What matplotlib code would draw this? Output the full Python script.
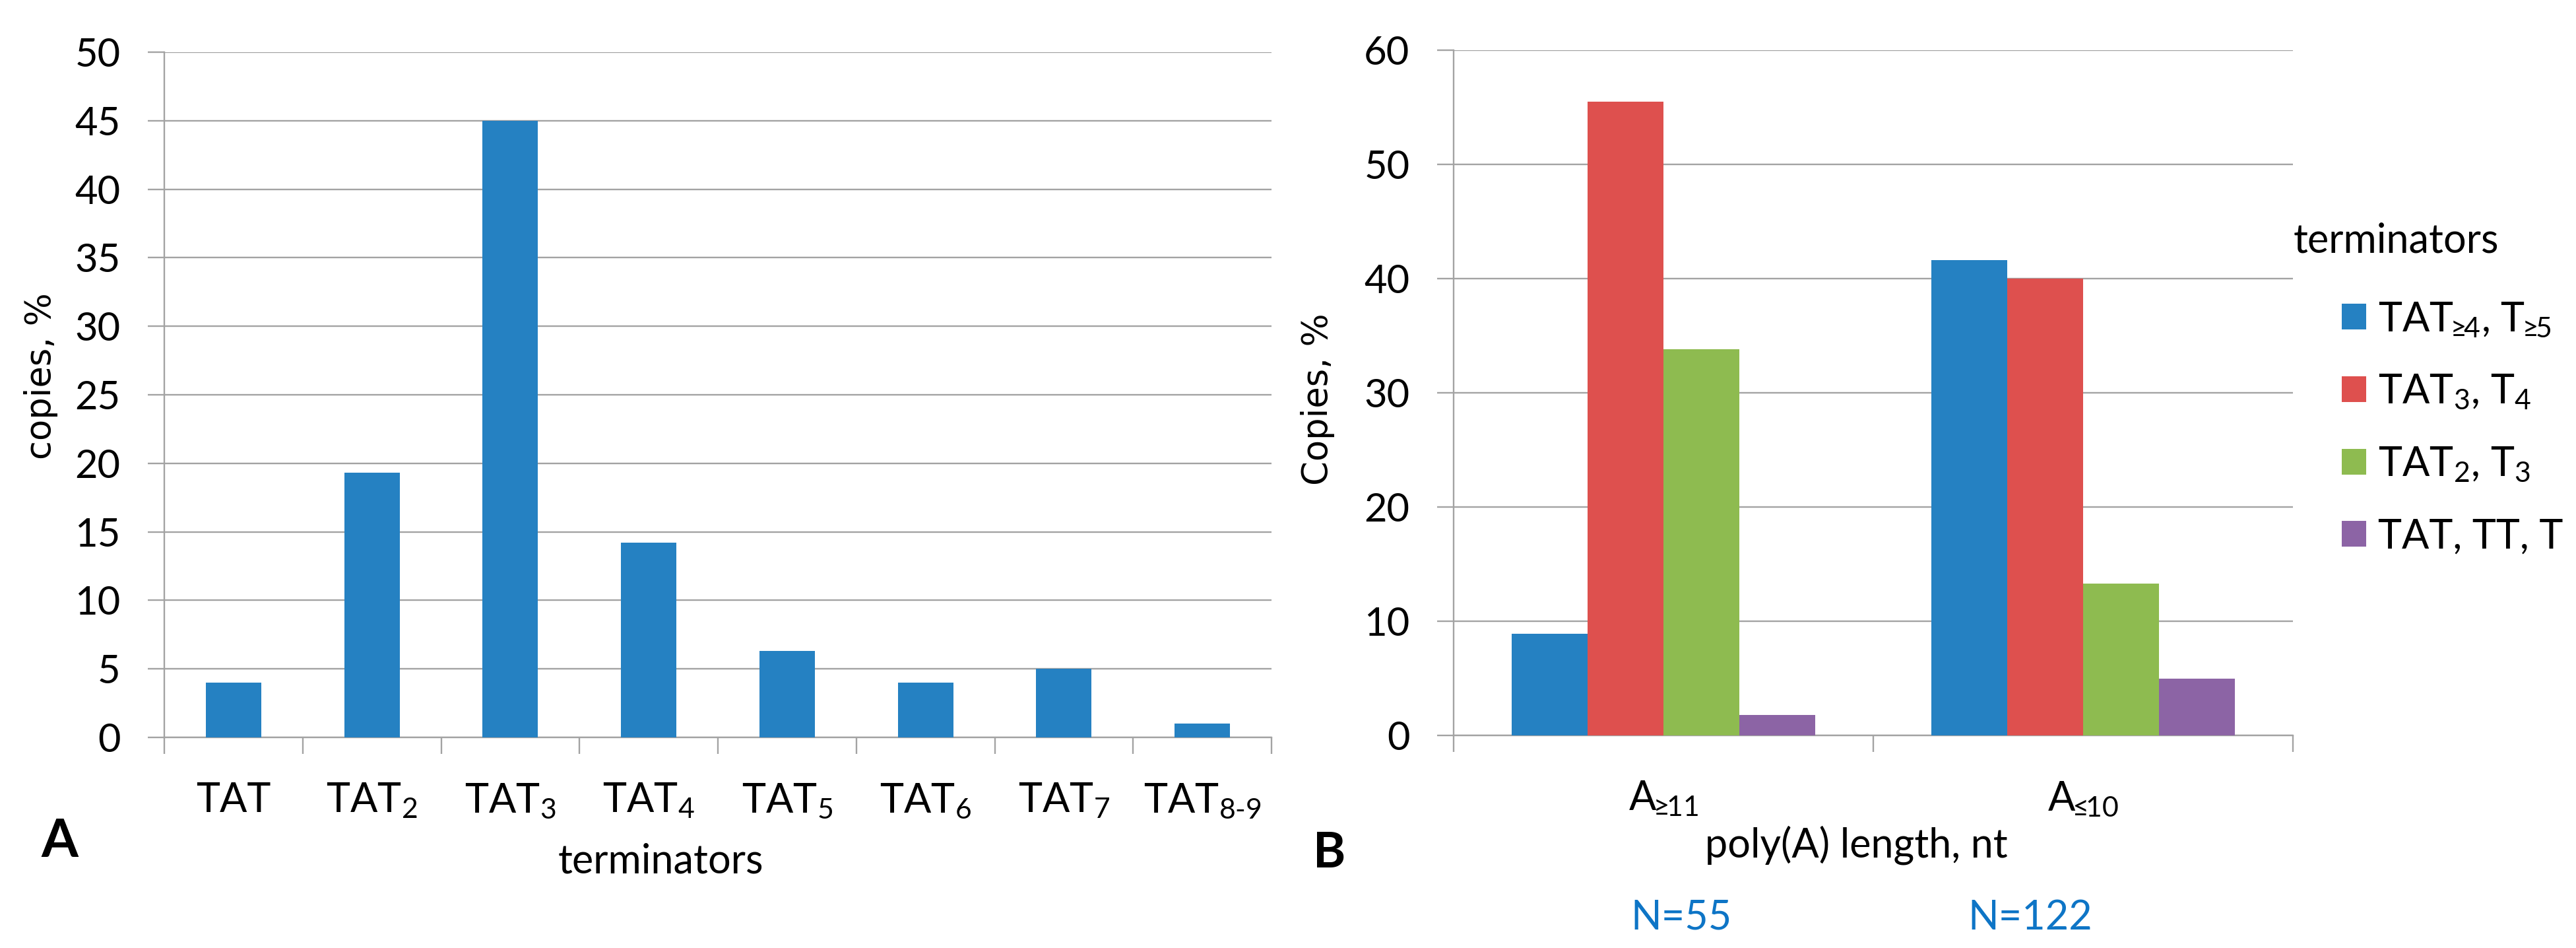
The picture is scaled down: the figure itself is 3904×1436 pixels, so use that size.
import matplotlib
matplotlib.use("Agg")
import matplotlib.pyplot as plt
import numpy as np

# ---------------- data ----------------
a_categories = ['TAT', r'TAT$_2$', r'TAT$_3$', r'TAT$_4$', r'TAT$_5$', r'TAT$_6$',
                r'TAT$_7$', r'TAT$_{8\text{-}9}$']
a_values = [4.0, 19.3, 45.0, 14.2, 6.3, 4.0, 5.0, 1.0]
a_yticks = list(range(0, 51, 5))

b_categories = [r'A$_{\!\!\geq\!\!11}$', r'A$_{\!\!\leq\!\!10}$']
b_series_labels = [r'TAT$_{\!\!\geq\!\!4}$, T$_{\!\!\geq\!\!5}$',
                   r'TAT$_3$, T$_4$',
                   r'TAT$_2$, T$_3$',
                   'TAT, TT, T']
b_tat_ge4 = [8.9, 41.6]
b_tat3 = [55.5, 40.0]
b_tat2 = [33.8, 13.3]
b_tat1 = [1.8, 5.0]
b_yticks = list(range(0, 61, 10))
b_counts = ['N=55', 'N=122']

# ---------------- style ----------------
plt.rcParams['font.family'] = ['Lato', 'DejaVu Sans']
plt.rcParams['mathtext.fontset'] = 'custom'
plt.rcParams['mathtext.rm'] = 'Lato'
plt.rcParams['mathtext.it'] = 'Lato:italic'
plt.rcParams['mathtext.bf'] = 'Lato:bold'
plt.rcParams['mathtext.default'] = 'regular'
plt.rcParams['mathtext.fallback'] = 'stixsans'

W, H = 3904, 1436
BLUE = '#2581C2'
RED = '#DE504E'
GREEN = '#8EBB50'
PURPLE = '#8C64A5'
GRID = '#a3a3a3'
LW = 1.7

fig = plt.figure(figsize=(W / 100, H / 100), dpi=100)


def px(x, y):
    return x / W, 1 - y / H


def style_axes(ax):
    ax.set_axisbelow(True)
    ax.yaxis.grid(True, color=GRID, linewidth=LW)
    for s in ['top', 'right']:
        ax.spines[s].set_visible(False)
    for s in ['left', 'bottom']:
        ax.spines[s].set_color(GRID)
        ax.spines[s].set_linewidth(LW)
    ax.tick_params(axis='y', direction='out', length=18, width=LW, color=GRID,
                   labelsize=43, pad=30)
    ax.tick_params(axis='x', which='major', length=0, labelsize=44, pad=48)
    ax.tick_params(axis='x', which='minor', direction='out', length=18, width=LW,
                   color=GRID)


# ---------------- panel A ----------------
ax1 = fig.add_axes([249 / W, 1 - 1117 / H, (1927 - 249) / W, (1117 - 79) / H])
xa = np.arange(len(a_values))
ax1.bar(xa, a_values, width=0.4, color=BLUE, zorder=3)
ax1.set_xlim(-0.5, len(a_values) - 0.5)
ax1.set_ylim(0, 50)
ax1.set_yticks(a_yticks)
ax1.set_xticks(xa)
ax1.set_xticklabels(a_categories)
ax1.set_xticks(np.arange(len(a_values) + 1) - 0.5, minor=True)
style_axes(ax1)

fig.text(*px(1001, 1305), 'terminators', fontsize=44, ha='center', va='center')
fig.text(*px(62, 570), 'copies, %', fontsize=38, family='DejaVu Sans',
         rotation=90, ha='center', va='center')
fig.text(*px(90, 1275), 'A', fontsize=58, fontweight='bold', ha='center', va='center')

# ---------------- panel B ----------------
ax2 = fig.add_axes([2203 / W, 1 - 1114 / H, 1272 / W, (1114 - 76) / H])
xb = np.arange(len(b_categories))
bw = 0.181
series = [b_tat_ge4, b_tat3, b_tat2, b_tat1]
colors = [BLUE, RED, GREEN, PURPLE]
handles = []
for i, (vals, c, lab) in enumerate(zip(series, colors, b_series_labels)):
    h = ax2.bar(xb + (i - 1.5) * bw, vals, width=bw, color=c, label=lab, zorder=3)
    handles.append(h)
ax2.set_xlim(-0.5, len(b_categories) - 0.5)
ax2.set_ylim(0, 60)
ax2.set_yticks(b_yticks)
ax2.set_xticks(xb)
ax2.set_xticklabels(b_categories)
ax2.set_xticks(np.arange(len(b_categories) + 1) - 0.5, minor=True)
style_axes(ax2)

fig.text(*px(2813, 1280), 'poly(A) length, nt', fontsize=44, ha='center', va='center')
fig.text(*px(1997, 605), 'Copies, %', fontsize=38, family='DejaVu Sans',
         rotation=90, ha='center', va='center')
fig.text(*px(2015, 1293), 'B', fontsize=54, fontweight='bold', ha='center', va='center')
for xc, t in zip([2548, 3077], b_counts):
    fig.text(*px(xc, 1390), t, fontsize=44, color='#0E75C6', ha='center', va='center')

fig.text(*px(3476, 365), 'terminators', fontsize=44, ha='left', va='center')
leg = fig.legend(handles=handles, labels=b_series_labels, loc='center left',
                 bbox_to_anchor=px(3549, 648), frameon=False, fontsize=44,
                 handlelength=0.6, handleheight=0.6, handletextpad=0.3,
                 labelspacing=0.85, borderpad=0, borderaxespad=0)

fig.savefig('out.png', dpi=100, facecolor='white')
